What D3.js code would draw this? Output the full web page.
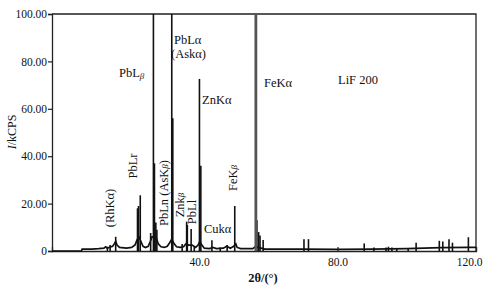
<!DOCTYPE html>
<html>
<head>
<meta charset="utf-8">
<script src="https://cdn.jsdelivr.net/npm/d3@7"></script>
<style>
  body { margin: 0; background: #fff; }
  svg text { font-family: "Liberation Serif", "Times New Roman", "DejaVu Serif", serif; fill: #111; }
</style>
</head>
<body>
<div id="chart"></div>
<script>
// axis ticks
const yTicks = [0, 20, 40, 60, 80, 100];
const yTickLabels = ["0", "20.00", "40.00", "60.00", "80.00", "100.00"];
const xTicks = [40, 80, 120];
const xTickLabels = ["40.0", "80.0", "120.0"];

// continuous background of the spectrum, [2theta, kCPS]
const background = [
  [-2.5, 0], [6.0, 0], [6.2, 0.8], [9, 0.8], [11, 1.0], [12.5, 1.2], [13.0, 1.8], [13.5, 1.2],
  [14.0, 1.5], [15.0, 2.0], [15.5, 3], [15.9, 4], [16.3, 2.5], [17, 1.5], [19, 1.2], [20.5, 1.5],
  [21.5, 2.5], [22, 4.5], [22.6, 6], [23.2, 4], [23.8, 2], [24.5, 1.5], [25.3, 2], [25.9, 4],
  [26.4, 6], [27.5, 6], [28.2, 3], [29, 1.8], [30, 1.5], [30.8, 2], [31.5, 3.5], [32.1, 5],
  [32.8, 3], [33.5, 1.8], [34.5, 1.5], [35.5, 1.8], [36.2, 3], [37, 2.5], [38, 2.5], [39, 1.5],
  [39.7, 2.5], [40.2, 4], [40.8, 2.5], [41.5, 1.2], [43, 1], [44, 1.5], [45, 1], [47, 1.2],
  [48, 2], [49, 1.2], [50, 2], [50.6, 3], [51, 1.5], [52, 1], [55.5, 1], [56.4, 2], [57, 1.5],
  [59, 0.8], [70, 0.8], [80, 0.7], [90, 0.8], [100, 1.0], [110, 1.4], [118, 1.5], [120, 1.5]
];

// peak lines, [2theta, kCPS]
const peaks = [
  [13.5, 1.8], [14.3, 2.5], [15.9, 6],
  [22.2, 18], [22.5, 19], [23.0, 23.5],
  [26.0, 7.6], [26.8, 100], [27.1, 37], [27.5, 12], [27.8, 9],
  [32.1, 100], [32.4, 56],
  [35.1, 3], [36.4, 12.4], [36.6, 11], [37.7, 9.3], [38.6, 2],
  [40.1, 72.6], [40.5, 36],
  [43.7, 4.5], [46.1, 1.5], [48.1, 2.5], [50.3, 19],
  [56.7, 13], [57.2, 8], [57.6, 6.5], [58.5, 4.6],
  [70.3, 5], [71.6, 5],
  [87.7, 3.2], [90.5, 1.5], [94.0, 1.5], [94.7, 1.8], [95.7, 1.5], [97.1, 1.2], [100.4, 1],
  [102.7, 3.5], [109.4, 4.3], [110.4, 4], [112.2, 5], [113.2, 3.5], [117.8, 5.8]
];
// FeKα main line (drawn grey, thicker)
const feKa = [[56.4, 100]];

const W = 489, H = 291;
const mLeft = 52, mRight = 476, mTop = 14, mBottom = 251;
const SERIF = "Liberation Serif, Times New Roman, serif";

const svg = d3.select("#chart").append("svg")
  .attr("width", W).attr("height", H)
  .attr("font-family", SERIF);

const x = d3.scaleLinear().domain([-2.5, 120]).range([mLeft, mRight]);
const y = d3.scaleLinear().domain([0, 100]).range([mBottom, mTop]);

// frame top and right
svg.append("path")
  .attr("d", `M${mLeft},${mTop}H${mRight}V${mBottom}`)
  .attr("fill", "none").attr("stroke", "#222").attr("stroke-width", 1.3);

// axes
const yAxis = svg.append("g").attr("transform", `translate(${mLeft},0)`)
  .call(d3.axisLeft(y).tickValues(yTicks).tickSize(4)
    .tickFormat((d, i) => yTickLabels[i]));
const xAxis = svg.append("g").attr("transform", `translate(0,${mBottom})`)
  .call(d3.axisBottom(x).tickValues(xTicks).tickSize(-4)
    .tickFormat((d, i) => xTickLabels[i]));

[yAxis, xAxis].forEach(g => {
  g.attr("font-family", SERIF);
  g.select(".domain").attr("stroke", "#222").attr("stroke-width", 1.3);
  g.selectAll(".tick line").attr("stroke", "#222").attr("stroke-width", 1.2);
  g.selectAll(".tick text").attr("font-size", 11.5).attr("fill", "#111");
});
yAxis.selectAll(".tick text").attr("x", -5);
xAxis.selectAll(".tick text").attr("y", 7);
xAxis.selectAll(".tick").filter(d => d === 120).select("text").attr("text-anchor", "end").attr("dx", 6);

// spectrum background
svg.append("path")
  .datum(background)
  .attr("d", d3.line().x(d => x(d[0])).y(d => y(d[1])))
  .attr("fill", "none").attr("stroke", "#111").attr("stroke-width", 1.7);

// peak lines
svg.selectAll("line.peak").data(peaks).join("line")
  .attr("class", "peak")
  .attr("x1", d => x(d[0])).attr("x2", d => x(d[0]))
  .attr("y1", y(0)).attr("y2", d => y(d[1]))
  .attr("stroke", "#111").attr("stroke-width", 1.6);

svg.selectAll("line.fe").data(feKa).join("line")
  .attr("class", "fe")
  .attr("x1", d => x(d[0])).attr("x2", d => x(d[0]))
  .attr("y1", y(0)).attr("y2", d => y(d[1]))
  .attr("stroke", "#555").attr("stroke-width", 2.8);

// horizontal labels
function label(tx, ty, parts, anchor) {
  const t = svg.append("text").attr("x", tx).attr("y", ty)
    .attr("font-size", 12.5).attr("text-anchor", anchor || "start");
  parts.forEach(p => {
    const s = t.append("tspan").text(p[0]);
    if (p[1] === "sub") s.attr("font-size", 9).attr("font-style", "italic").attr("dy", 2);
  });
  return t;
}
label(119, 77, [["PbL"], ["β", "sub"]]);
label(174, 44, [["PbLα"]]);
label(171, 58, [["(Askα)"]]);
label(202, 104, [["ZnKα"]]);
label(264, 87, [["FeKα"]]);
label(338, 84, [["LiF 200"]]);
label(204, 233, [["Cukα"]]);

// rotated labels
function vlabel(cx, cy, parts) {
  const t = svg.append("text")
    .attr("transform", `translate(${cx},${cy}) rotate(-90)`)
    .attr("text-anchor", "middle").attr("dy", "0.35em").attr("font-size", 12.5);
  parts.forEach(p => {
    const s = t.append("tspan").text(p[0]);
    if (p[1] === "sub") s.attr("font-size", 9).attr("font-style", "italic");
  });
}
vlabel(110, 208, [["(RhKα)"]]);
vlabel(133, 166, [["PbLr"]]);
vlabel(164, 193, [["PbLn (AsK"], ["β", "sub"], [")"]]);
vlabel(180, 205, [["Znk"], ["β", "sub"]]);
vlabel(192, 212, [["PbLl"]]);
vlabel(233, 178, [["FeK"], ["β", "sub"]]);

// axis titles
const yt = svg.append("text")
  .attr("transform", "translate(12,132) rotate(-90)")
  .attr("text-anchor", "middle").attr("dy", "0.35em").attr("font-size", 12);
yt.append("tspan").text("I").attr("font-style", "italic");
yt.append("tspan").text("/kCPS");

svg.append("text").attr("x", 263).attr("y", 282)
  .attr("text-anchor", "middle").attr("font-size", 12.5).attr("font-weight", "bold")
  .text("2θ/(°)");
</script>
</body>
</html>
